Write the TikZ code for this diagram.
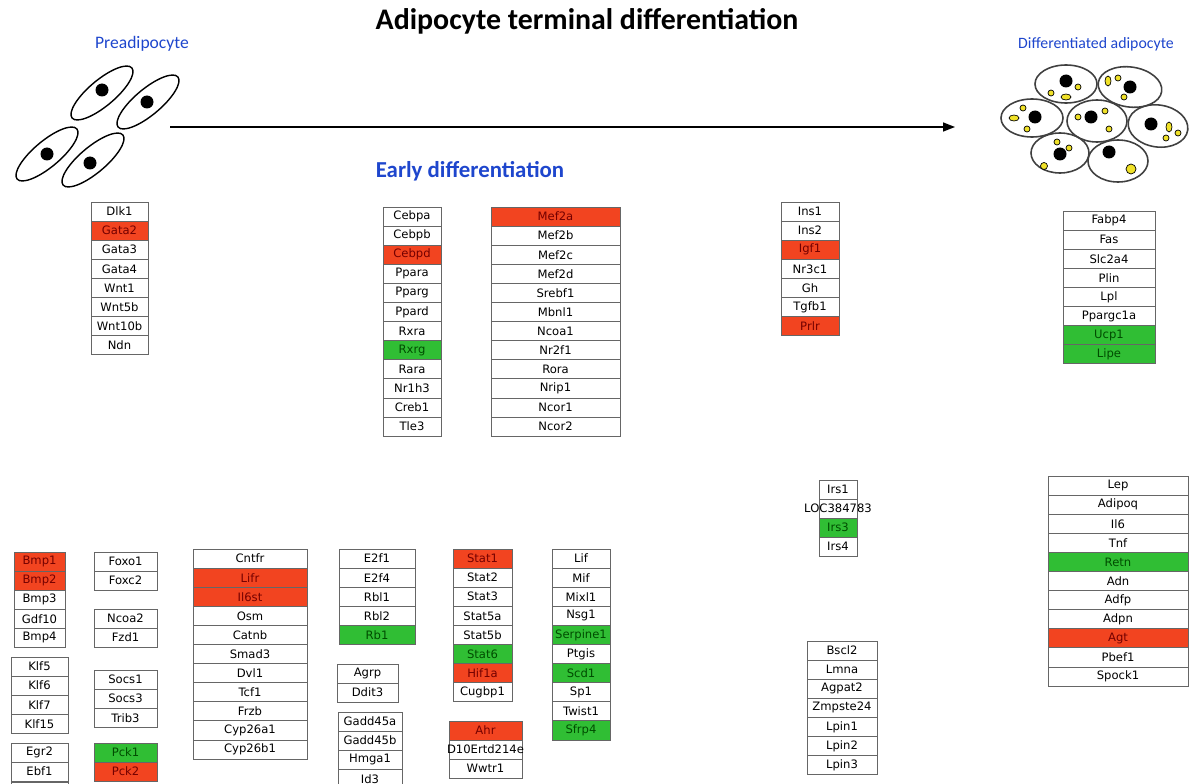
\documentclass[tikz,border=0pt]{standalone}
\usepackage{fontspec}
\setmainfont{Carlito}
\newfontfamily\genefont{DejaVu Sans}
\usepackage{xcolor}
\usepackage{tikz}
\usetikzlibrary{arrows.meta,positioning}

\definecolor{genered}{RGB}{242,68,32}
\definecolor{genegreen}{RGB}{48,190,52}
\definecolor{stageblue}{RGB}{30,70,205}
\definecolor{droplet}{RGB}{240,225,40}

% one column of stacked gene boxes: x centre, top (px), width (px), {name/state,...}
\newcommand{\genecol}[4]{%
  \foreach \g/\s [count=\i from 0] in {#4} {%
    \node[gene, \s, minimum width=#3*0.02cm] (\g) at (#1, -#2-\i*19.1-9.55) {\makebox[0pt]{\g}};
  }%
}

\begin{document}
\begin{tikzpicture}[
    x=0.02cm, y=0.02cm,
    gene/.style={draw=black!60, line width=0.5pt, fill=white, inner sep=0pt,
      minimum height=19.1*0.02cm, font=\genefont\fontsize{6.6}{7}\selectfont},
    nochange/.style={},
    upreg/.style={fill=genered, text=black!55!red},
    downreg/.style={fill=genegreen, text=black!70!green},
    stage/.style={text=stageblue, font=\fontsize{9}{10}\selectfont},
    cellwall/.style={draw=black, line width=0.8pt},
    fatwall/.style={draw=black!75, line width=0.9pt},
    lipid/.style={draw=black, line width=0.4pt, fill=droplet},
    arr/.style={-{Triangle[length=2.4mm, width=1.8mm]}, line width=0.8pt}
]
    \clip (0,0) rectangle (1191,-784);

    % Titles
    \node[font=\bfseries\fontsize{17}{19}\selectfont] (title) at (587,-21) {Adipocyte terminal differentiation};
    \node[stage, font=\fontsize{10}{11}\selectfont] (preLabel) at (142,-44) {Preadipocyte};
    \node[stage] (difLabel) at (1096,-44) {Differentiated adipocyte};
    \node[text=stageblue, font=\bfseries\fontsize{13}{15}\selectfont] (early) at (470,-171) {Early differentiation};

    % Preadipocytes
    \foreach \x/\y/\nx/\ny [count=\k] in {102/-93/102/-90, 148/-102/147/-102, 47/-154/47/-154, 93/-160/90/-163} {
        \draw[cellwall] (\x,\y) ellipse [x radius=39, y radius=13, rotate=40];
        \fill (\nx,\ny) circle (6.5);
    }

    % Mature adipocytes
    \foreach \x/\y/\rx/\ry/\r in {1066/-84/31/19/0, 1130/-87/32/20/-8, 1032/-118/31/19/0,
        1097/-121/30/21/0, 1158/-126/30/21/-8, 1060/-153/29/20/0, 1118/-161/30/21/0} {
        \draw[fatwall] (\x,\y) ellipse [x radius=\rx, y radius=\ry, rotate=\r];
    }
    \foreach \x/\y in {1066/-81, 1130/-87, 1035/-117, 1091/-117, 1151/-124, 1060/-154, 1109/-152}
        \fill (\x,\y) circle (6.5);
    \foreach \x/\y/\rx/\ry in {1051/-93/3/3, 1078/-87/3/3, 1066/-97/5/3,
        1108/-81/3/5, 1118/-78/3/3, 1124/-97/3/3,
        1023/-108/3/3, 1014/-118/5/3, 1027/-129/3/3,
        1105/-111/3/3, 1078/-117/3/3, 1109/-129/3/3,
        1169/-127/3/5, 1178/-133/3/3, 1166/-138/3/3,
        1057/-142/3/3, 1069/-148/3/3, 1044/-166/3.5/3.5,
        1131/-169/5/5}
        \draw[lipid] (\x,\y) ellipse [x radius=\rx, y radius=\ry];

    % Differentiation arrow
    \coordinate (arrS) at (170,-127);
    \coordinate (arrE) at (955,-127);
    \draw[arr] (arrS) -- (arrE);

    % Upper gene groups
    \genecol{119.5}{202}{57}{Dlk1/nochange, Gata2/upreg, Gata3/nochange, Gata4/nochange,
        Wnt1/nochange, Wnt5b/nochange, Wnt10b/nochange, Ndn/nochange}
    \genecol{412}{207}{58}{Cebpa/nochange, Cebpb/nochange, Cebpd/upreg, Ppara/nochange,
        Pparg/nochange, Ppard/nochange, Rxra/nochange, Rxrg/downreg, Rara/nochange,
        Nr1h3/nochange, Creb1/nochange, Tle3/nochange}
    \genecol{555.5}{207}{129}{Mef2a/upreg, Mef2b/nochange, Mef2c/nochange, Mef2d/nochange,
        Srebf1/nochange, Mbnl1/nochange, Ncoa1/nochange, Nr2f1/nochange, Rora/nochange,
        Nrip1/nochange, Ncor1/nochange, Ncor2/nochange}
    \genecol{810}{202}{58}{Ins1/nochange, Ins2/nochange, Igf1/upreg, Nr3c1/nochange,
        Gh/nochange, Tgfb1/nochange, Prlr/upreg}
    \genecol{1109}{211}{92}{Fabp4/nochange, Fas/nochange, Slc2a4/nochange, Plin/nochange,
        Lpl/nochange, Ppargc1a/nochange, Ucp1/downreg, Lipe/downreg}

    % Right-hand gene groups
    \genecol{838}{480}{38}{Irs1/nochange, LOC384783/nochange, Irs3/downreg, Irs4/nochange}
    \genecol{1118}{476}{140}{Lep/nochange, Adipoq/nochange, Il6/nochange, Tnf/nochange,
        Retn/downreg, Adn/nochange, Adfp/nochange, Adpn/nochange, Agt/upreg,
        Pbef1/nochange, Spock1/nochange}
    \genecol{842}{641}{70}{Bscl2/nochange, Lmna/nochange, Agpat2/nochange, Zmpste24/nochange,
        Lpin1/nochange, Lpin2/nochange, Lpin3/nochange}

    % Lower gene groups
    \genecol{39.5}{552}{51}{Bmp1/upreg, Bmp2/upreg, Bmp3/nochange, Gdf10/nochange, Bmp4/nochange}
    \genecol{39.5}{657}{57}{Klf5/nochange, Klf6/nochange, Klf7/nochange, Klf15/nochange}
    \genecol{39.5}{743}{57}{Egr2/nochange, Ebf1/nochange}
    \node[gene, minimum width=57*0.02cm, below=0pt of Ebf1] (egrTail) {};
    \genecol{125.5}{552}{63}{Foxo1/nochange, Foxc2/nochange}
    \genecol{125.5}{609}{63}{Ncoa2/nochange, Fzd1/nochange}
    \genecol{125.5}{670}{63}{Socs1/nochange, Socs3/nochange, Trib3/nochange}
    \genecol{125.5}{743}{63}{Pck1/downreg, Pck2/upreg}
    \genecol{250}{549}{114}{Cntfr/nochange, Lifr/upreg, Il6st/upreg, Osm/nochange,
        Catnb/nochange, Smad3/nochange, Dvl1/nochange, Tcf1/nochange, Frzb/nochange,
        Cyp26a1/nochange, Cyp26b1/nochange}
    \genecol{377}{549}{76}{E2f1/nochange, E2f4/nochange, Rbl1/nochange, Rbl2/nochange, Rb1/downreg}
    \genecol{367.5}{664}{61}{Agrp/nochange, Ddit3/nochange}
    \genecol{370}{712}{64}{Gadd45a/nochange, Gadd45b/nochange, Hmga1/nochange, Id3/nochange}
    \genecol{482.5}{549}{59}{Stat1/upreg, Stat2/nochange, Stat3/nochange, Stat5a/nochange,
        Stat5b/nochange, Stat6/downreg, Hif1a/upreg, Cugbp1/nochange}
    \genecol{485.5}{721}{73}{Ahr/upreg, D10Ertd214e/nochange, Wwtr1/nochange}
    \genecol{581}{549}{58}{Lif/nochange, Mif/nochange, Mixl1/nochange, Nsg1/nochange,
        Serpine1/downreg, Ptgis/nochange, Scd1/downreg, Sp1/nochange, Twist1/nochange,
        Sfrp4/downreg}
\end{tikzpicture}
\end{document}
